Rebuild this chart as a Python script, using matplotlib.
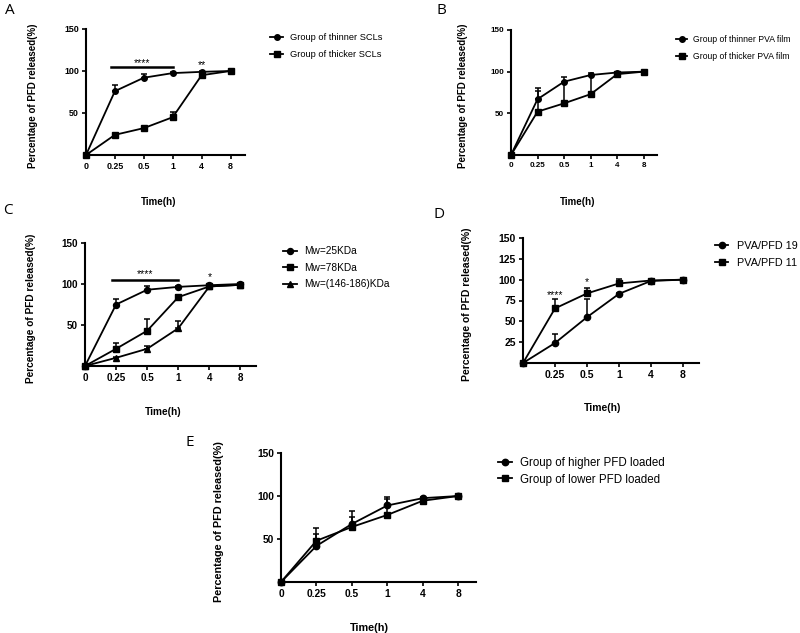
import numpy as np
import matplotlib
matplotlib.use("Agg")
import matplotlib.pyplot as plt

plt.rcParams['font.family'] = ['Liberation Sans', 'DejaVu Sans']

times = ["0", "0.25", "0.5", "1", "4", "8"]

# Panel A
a_thin = [0, 76, 92, 97.5, 99, 100]
a_thin_err = [0, 7, 5, 1, 1.5, 0]
a_thick = [0, 24, 32, 45, 95, 100]
a_thick_err = [0, 1.5, 1.5, 6, 2, 0]

# Panel B
b_thin = [0, 67, 88, 96, 99, 100]
b_thin_err = [0, 14, 6, 3, 1, 0]
b_thick = [0, 52, 62, 73, 97, 100]
b_thick_err = [0, 25, 25, 22, 1, 0]

# Panel C
c_25 = [0, 75, 93, 96.5, 98.5, 100]
c_25_err = [0, 7, 4, 1, 1, 0]
c_78 = [0, 21, 43, 84, 97, 99]
c_78_err = [0, 7, 14, 2, 1, 0]
c_146 = [0, 10, 21, 46, 97, 99]
c_146_err = [0, 1, 4, 9, 1, 0]

# Panel D
d_19 = [0, 24, 55, 83, 98.5, 100]
d_19_err = [0, 10.5, 21.5, 1, 1, 0]
d_11 = [0, 65.5, 83.5, 95.5, 99, 100]
d_11_err = [0, 11, 7, 5, 1, 0]

# Panel E
e_high = [0, 42, 67.5, 89, 97.5, 100]
e_high_err = [0, 14, 15.5, 10, 1, 0]
e_low = [0, 48, 64, 78, 94.5, 100]
e_low_err = [0, 15, 12, 18, 1, 0]

W, H = 800, 633
fig = plt.figure(figsize=(W / 100, H / 100), dpi=100)


def px_rect(l, r, t, b):
    return [l / W, 1 - b / H, (r - l) / W, (b - t) / H]


def make_axes(l, r, t, b, yticks, ytl, xtl, tick_fs, lab_fs, ylab_x, xlab_y, show_x0=True):
    ax = fig.add_axes(px_rect(l, r, t, b))
    ax.set_xlim(0, 5.5)
    ax.set_ylim(0, 150)
    for s in ['top', 'right']:
        ax.spines[s].set_visible(False)
    for s in ['left', 'bottom']:
        ax.spines[s].set_linewidth(1.5)
    ax.set_yticks(yticks)
    ax.set_yticklabels(ytl, fontsize=tick_fs, fontweight='bold')
    if show_x0:
        ax.set_xticks(np.arange(len(xtl)))
        ax.set_xticklabels(xtl, fontsize=tick_fs, fontweight='bold')
    else:
        ax.set_xticks(np.arange(1, len(xtl)))
        ax.set_xticklabels(xtl[1:], fontsize=tick_fs, fontweight='bold')
    ax.tick_params(direction='out', length=3, width=1.2, pad=2)
    ax.set_ylabel("Percentage of PFD released(%)", fontsize=lab_fs, fontweight='bold')
    ax.yaxis.set_label_coords(ylab_x, 0.47)
    ax.set_xlabel("Time(h)", fontsize=lab_fs, fontweight='bold')
    ax.xaxis.set_label_coords(2.5 / 5.5, xlab_y)
    return ax


def series(ax, y, err, marker, ms, label):
    x = np.arange(len(y))
    err = np.asarray(err, dtype=float)
    ax.errorbar(x, y, yerr=[np.zeros_like(err), err], fmt='none', ecolor='black',
                elinewidth=1.1, capsize=2.2, capthick=1.1, clip_on=False, zorder=2)
    ax.plot(x, y, color='black', lw=1.3, marker=marker, ms=ms, label=label,
            clip_on=False, zorder=3)


def place_legend(ax, line_x0, line_x1, text_x, row1_y, spacing, fs):
    fpx = fs * 100 / 72.0
    row_h = fpx * 0.97
    hl = (line_x1 - line_x0) / fpx
    htp = (text_x - line_x1) / fpx
    ls = (spacing - row_h) / fpx
    top = row1_y - row_h / 2
    leg = ax.legend(loc='upper left', bbox_to_anchor=(line_x0 / W, 1 - top / H),
                    bbox_transform=fig.transFigure, frameon=False, fontsize=fs,
                    handlelength=hl, handletextpad=htp, labelspacing=ls,
                    borderpad=0, borderaxespad=0)
    return leg


def sig_bar(ax, x0, x1, y, text, ty, fs):
    ax.plot([x0, x1], [y, y], color='black', lw=1.8, clip_on=False)
    ax.text((x0 + x1) / 2, ty, text, ha='center', va='center', fontsize=fs)


yt3 = [50, 100, 150]

# ---- A
axA = make_axes(86, 245, 29, 155, yt3, ["50", "100", "150"], times, 6.4, 7.0, -0.30, -0.33)
series(axA, a_thin, a_thin_err, 'o', 4.0, "Group of thinner SCLs")
series(axA, a_thick, a_thick_err, 's', 4.0, "Group of thicker SCLs")
sig_bar(axA, 0.87, 3, 104.5, "****", 109, 7.5)
axA.text(4, 107, "**", ha='center', va='center', fontsize=7.5)
place_legend(axA, 270, 283, 290, 37.7, 16.7, 6.7)

# ---- B
axB = make_axes(511, 657, 30, 155, yt3, ["50", "100", "150"], times, 5.8, 7.0, -0.295, -0.336)
series(axB, b_thin, b_thin_err, 'o', 4.0, "Group of thinner PVA film")
series(axB, b_thick, b_thick_err, 's', 4.0, "Group of thicker PVA film")
place_legend(axB, 676, 687, 693, 39.3, 16.4, 6.2)

# ---- C
axC = make_axes(85, 256, 243, 366, yt3, ["50", "100", "150"], times, 7.1, 7.3, -0.287, -0.336)
series(axC, c_25, c_25_err, 'o', 4.3, "Mw=25KDa")
series(axC, c_78, c_78_err, 's', 4.3, "Mw=78KDa")
series(axC, c_146, c_146_err, '^', 4.3, "Mw=(146-186)KDa")
sig_bar(axC, 0.87, 3, 104.5, "****", 112, 7.5)
axC.text(4, 108, "*", ha='center', va='center', fontsize=7.5)
place_legend(axC, 283, 297, 304, 251, 16.4, 7.3)

# ---- D
axD = make_axes(523, 699, 238, 363, [25, 50, 75, 100, 125, 150],
                ["25", "50", "75", "100", "125", "150"], times, 7.5, 7.5, -0.29, -0.32,
                show_x0=False)
series(axD, d_19, d_19_err, 'o', 4.5, "PVA/PFD 19")
series(axD, d_11, d_11_err, 's', 4.5, "PVA/PFD 11")
axD.text(1, 82, "****", ha='center', va='center', fontsize=7.5)
axD.text(2, 97, "*", ha='center', va='center', fontsize=7.5)
place_legend(axD, 715, 728, 737, 246.3, 17, 7.8)

# ---- E
axE = make_axes(281, 476, 453, 582, yt3, ["50", "100", "150"], times, 7.4, 7.8, -0.29, -0.32)
series(axE, e_high, e_high_err, 'o', 4.6, "Group of higher PFD loaded")
series(axE, e_low, e_low_err, 's', 4.6, "Group of lower PFD loaded")
place_legend(axE, 498, 512, 520, 462.3, 16, 8.3)

# Panel letters
for lab, x, y in [("A", 10, 10), ("B", 441, 10), ("C", 8, 210), ("D", 439, 215), ("E", 190, 443)]:
    fig.text(x / W, 1 - y / H, lab, fontsize=11, ha='center', va='center',
             family=['Open Sans', 'DejaVu Sans'])

fig.savefig("out.png", dpi=100)
